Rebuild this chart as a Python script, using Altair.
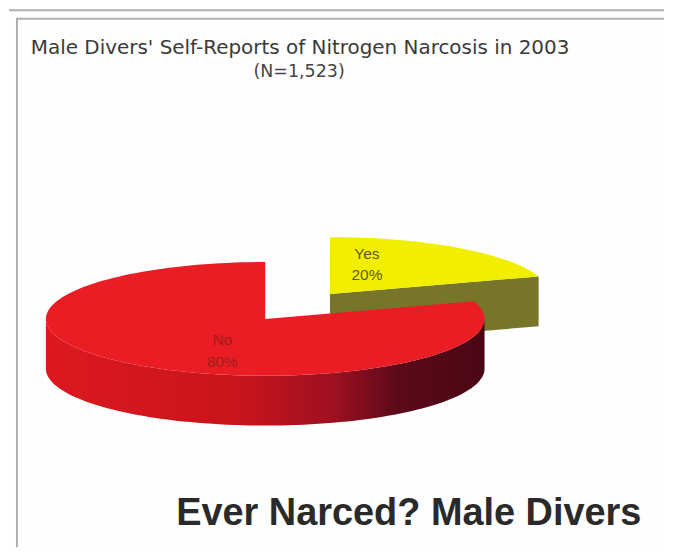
import math
import altair as alt
import pandas as pd

# Data values
categories = ["No", "Yes"]
shares = [80, 20]
title_lines = ["Male Divers' Self-Reports of Nitrogen Narcosis in 2003", "(N=1,523)"]
footer = "Ever Narced? Male Divers"

# Pseudo-3D pie geometry, in picture pixels
X0, X1, Y0, Y1 = 8, 665, 8, 547
RX, RY, DEPTH = 220, 57, 50
RED_C = (265, 318)
YEL_C = (330, 293)

yes_sweep = shares[1] / sum(shares) * 360


def pt(c, deg, dy=0):
    r = math.radians(deg)
    return c[0] + RX * math.sin(r), c[1] - RY * math.cos(r) + dy


def arc(c, a, b, dy=0, step=2):
    n = max(2, int(abs(b - a) / step))
    return [pt(c, a + (b - a) * i / n, dy) for i in range(n + 1)]


def frame(points, part):
    return pd.DataFrame([{"x": x, "y": y, "i": i, "part": part} for i, (x, y) in enumerate(points)])


xs = alt.Scale(domain=[X0, X1], range=[0, X1 - X0], nice=False, zero=False)
ys = alt.Scale(domain=[Y1, Y0], range=[Y1 - Y0, 0], nice=False, zero=False)


def poly(points, fill, stroke=None):
    mk = alt.Chart(frame(points, "p")).mark_line(fill=fill, stroke=stroke or "transparent", strokeWidth=1, interpolate="linear-closed")
    return mk.encode(
        x=alt.X("x:Q", scale=xs, axis=None),
        y=alt.Y("y:Q", scale=ys, axis=None),
        order="i:Q",
    )


yes_top = [YEL_C] + arc(YEL_C, 0, yes_sweep)
e = pt(YEL_C, yes_sweep)
yes_cut = [YEL_C, e, (e[0], e[1] + DEPTH), (YEL_C[0], YEL_C[1] + DEPTH)]

red_top = [RED_C] + arc(RED_C, yes_sweep, 360)
red_wall = arc(RED_C, 90, 270) + arc(RED_C, 270, 90, DEPTH)

wall_grad = alt.LinearGradient(
    gradient="linear", x1=0, x2=1, y1=0, y2=0,
    stops=[
        alt.GradientStop(offset=0, color="#dd1820"),
        alt.GradientStop(offset=0.45, color="#c8141c"),
        alt.GradientStop(offset=0.66, color="#9c1020"),
        alt.GradientStop(offset=0.80, color="#5c0a1a"),
        alt.GradientStop(offset=1, color="#4a0614"),
    ],
)

rules_h = pd.DataFrame({"y": [8.5, 17], "x": [X0, 15], "x2": [X1, X1]})
rules_v = pd.DataFrame({"x": [16], "y": [17], "y2": [Y1]})
h = alt.Chart(rules_h).mark_rule(color="#b0b0b0", strokeWidth=2).encode(
    x=alt.X("x:Q", scale=xs, axis=None), x2="x2:Q", y=alt.Y("y:Q", scale=ys, axis=None))
v = alt.Chart(rules_v).mark_rule(color="#b0b0b0", strokeWidth=2).encode(
    x=alt.X("x:Q", scale=xs, axis=None), y=alt.Y("y:Q", scale=ys, axis=None), y2="y2:Q")

texts = pd.DataFrame([
    {"x": 300, "y": 46, "t": title_lines[0], "s": 20, "c": "#3a3a3a"},
    {"x": 299, "y": 70, "t": title_lines[1], "s": 17.5, "c": "#444444"},
])
tx = alt.Chart(texts).mark_text(font="DejaVu Sans", fontSize=16).encode(
    x=alt.X("x:Q", scale=xs, axis=None), y=alt.Y("y:Q", scale=ys, axis=None),
    text="t:N", size=alt.Size("s:Q", scale=None, legend=None), color=alt.Color("c:N", scale=None))

foot = alt.Chart(pd.DataFrame({"x": [409], "y": [514], "t": [footer]})).mark_text(
    font="Liberation Sans", fontSize=38, fontWeight="bold", color="#2a2a2a").encode(
    x=alt.X("x:Q", scale=xs, axis=None), y=alt.Y("y:Q", scale=ys, axis=None), text="t:N")

labels = pd.DataFrame([
    {"x": 367, "y": 253, "t": categories[1], "c": "#5f5c18"},
    {"x": 367, "y": 274, "t": f"{shares[1]}%", "c": "#5f5c18"},
    {"x": 222, "y": 339, "t": categories[0], "c": "#a01c1e"},
    {"x": 222, "y": 361, "t": f"{shares[0]}%", "c": "#a01c1e"},
])
lab = alt.Chart(labels).mark_text(font="Liberation Sans", fontSize=15.5).encode(
    x=alt.X("x:Q", scale=xs, axis=None), y=alt.Y("y:Q", scale=ys, axis=None),
    text="t:N", color=alt.Color("c:N", scale=None))

chart = alt.layer(
    h, v,
    poly(yes_cut, "#77752a"),
    poly(yes_top, "#f1ee00"),
    poly(red_wall, wall_grad),
    poly(red_top, "#ea1c24"),
    lab, tx, foot,
).properties(
    width=X1 - X0, height=Y1 - Y0, padding=0,
    background="#fefefe",
).configure_view(stroke=None)

chart.save("out.html", embed_options={"renderer": "svg", "actions": False})
